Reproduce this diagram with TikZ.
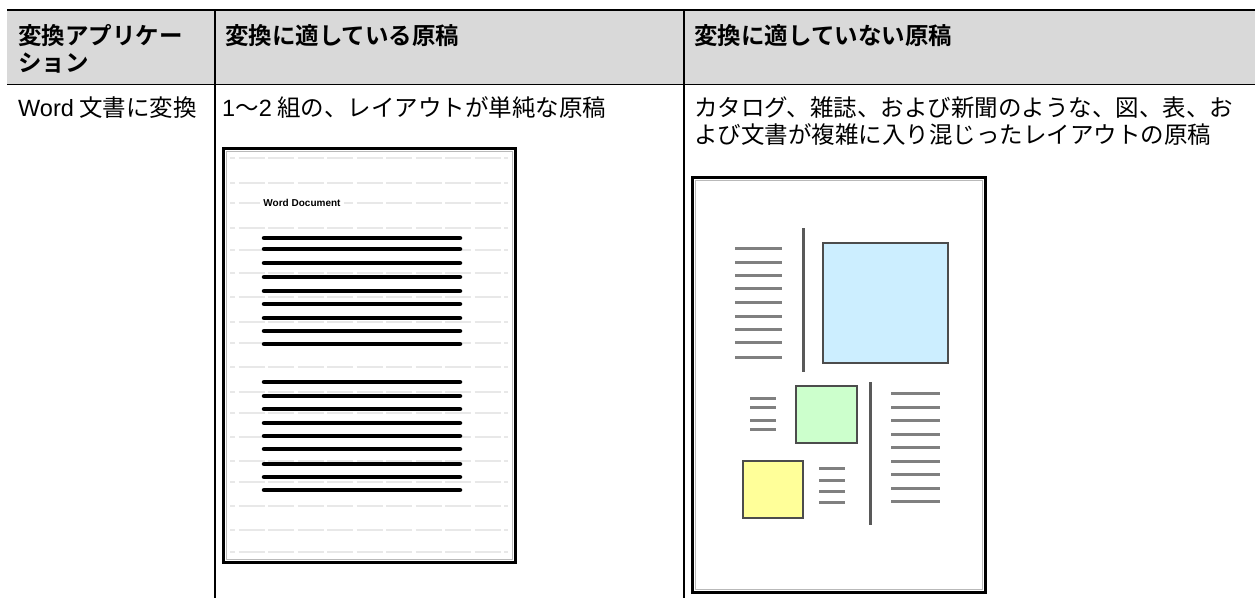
\documentclass[tikz,border=0pt]{standalone}
\usepackage{fontspec}
\setmainfont{Noto Sans CJK JP}[BoldFont={Noto Sans CJK JP Bold}]
\newfontfamily\latinfont{Liberation Sans}
\usetikzlibrary{positioning}

\definecolor{headgray}{RGB}{217,217,217}
\definecolor{picblue}{RGB}{204,238,255}
\definecolor{picgreen}{RGB}{204,255,204}
\definecolor{picyellow}{RGB}{255,255,153}

\begin{document}
\begin{tikzpicture}[
    x=1pt, y=-1pt,
    headnode/.style={font=\fontsize{23.5}{27}\selectfont\bfseries, anchor=base west, align=left, inner sep=0pt},
    cellnode/.style={font=\fontsize{23.5}{27}\selectfont, anchor=base west, align=left, inner sep=0pt},
    tablerule/.style={line width=1.2pt, black},
    docframe/.style={line width=3pt, black},
    docinner/.style={line width=0.8pt, gray!55},
    dashrow/.style={line width=2pt, gray!18, dash pattern=on 26pt off 3.5pt, dash phase=21pt},
    textbar/.style={line width=4.5pt, black, line cap=round},
    greyline/.style={line width=3pt, black!50},
    divline/.style={line width=3pt, black!65},
    picbox/.style={draw=black!70, line width=1.5pt},
    titlenode/.style={font=\latinfont\bfseries\fontsize{10}{12}\selectfont, fill=white, inner sep=3pt}
]
\useasboundingbox (0,0) rectangle (1255,598);

% Header band and rules
\fill[headgray] (7,10) rectangle (1255,84.5);
\draw[line width=2.5pt] (7,10) -- (1255,10);
\draw[tablerule] (7,84.5) -- (1255,84.5);
\foreach \x in {215,684}
    \draw[tablerule] (\x,10) -- (\x,598);

% Header cells (two-line nodes sit on their last baseline)
\node[headnode] (head-app) at (18,71) {変換アプリケー\\ション};
\node[headnode] (head-ok) at (225,44) {変換に適している原稿};
\node[headnode] (head-ng) at (694,44) {変換に適していない原稿};

% Body cells
\node[cellnode] (cell-app) at (18,116) {{\latinfont Word} 文書に変換};
\node[cellnode] (cell-ok) at (222,116) {{\latinfont 1}〜{\latinfont 2} 組の、レイアウトが単純な原稿};
\node[cellnode] (cell-ng) at (694,143) {カタログ、雑誌、および新聞のような、図、表、お\\よび文書が複雑に入り混じったレイアウトの原稿};

% Simple layout sample
\draw[docframe] (223,148) rectangle (515,562);
\draw[docinner] (226,151) rectangle (512,559);
\foreach \y in {158,183,203,228,250,273,297,322,343,367,392,413,437,461,482,506,530,552}
    \draw[dashrow] (230,\y) -- (508,\y);
\node[titlenode] (doc-title) at (302,203) {Word Document};
\foreach \y in {238,249,263,277,291,304,318,331,344,382,396,409,423,436,449,464,477,490}
    \draw[textbar] (264,\y) -- (460,\y);

% Complex layout sample
\draw[docframe] (692,177) rectangle (985,592);
\draw[docinner] (695,180) rectangle (982,589);
\foreach \y in {248,262,275,288,302,316,329,342,357}
    \draw[greyline] (735,\y) -- (782,\y);
\draw[divline] (803,228) -- (803,372);
\draw[picbox, fill=picblue] (823,243) rectangle (948,363);
\foreach \y in {398,407,420,429}
    \draw[greyline] (750,\y) -- (776,\y);
\draw[picbox, fill=picgreen] (796,386) rectangle (857,443);
\draw[divline] (870,382) -- (870,525);
\foreach \y in {393,407,420,434,447,461,474,488,501}
    \draw[greyline] (891,\y) -- (940,\y);
\draw[picbox, fill=picyellow] (743,461) rectangle (803,518);
\foreach \y in {468,480,491,502}
    \draw[greyline] (819,\y) -- (845,\y);

\end{tikzpicture}
\end{document}
